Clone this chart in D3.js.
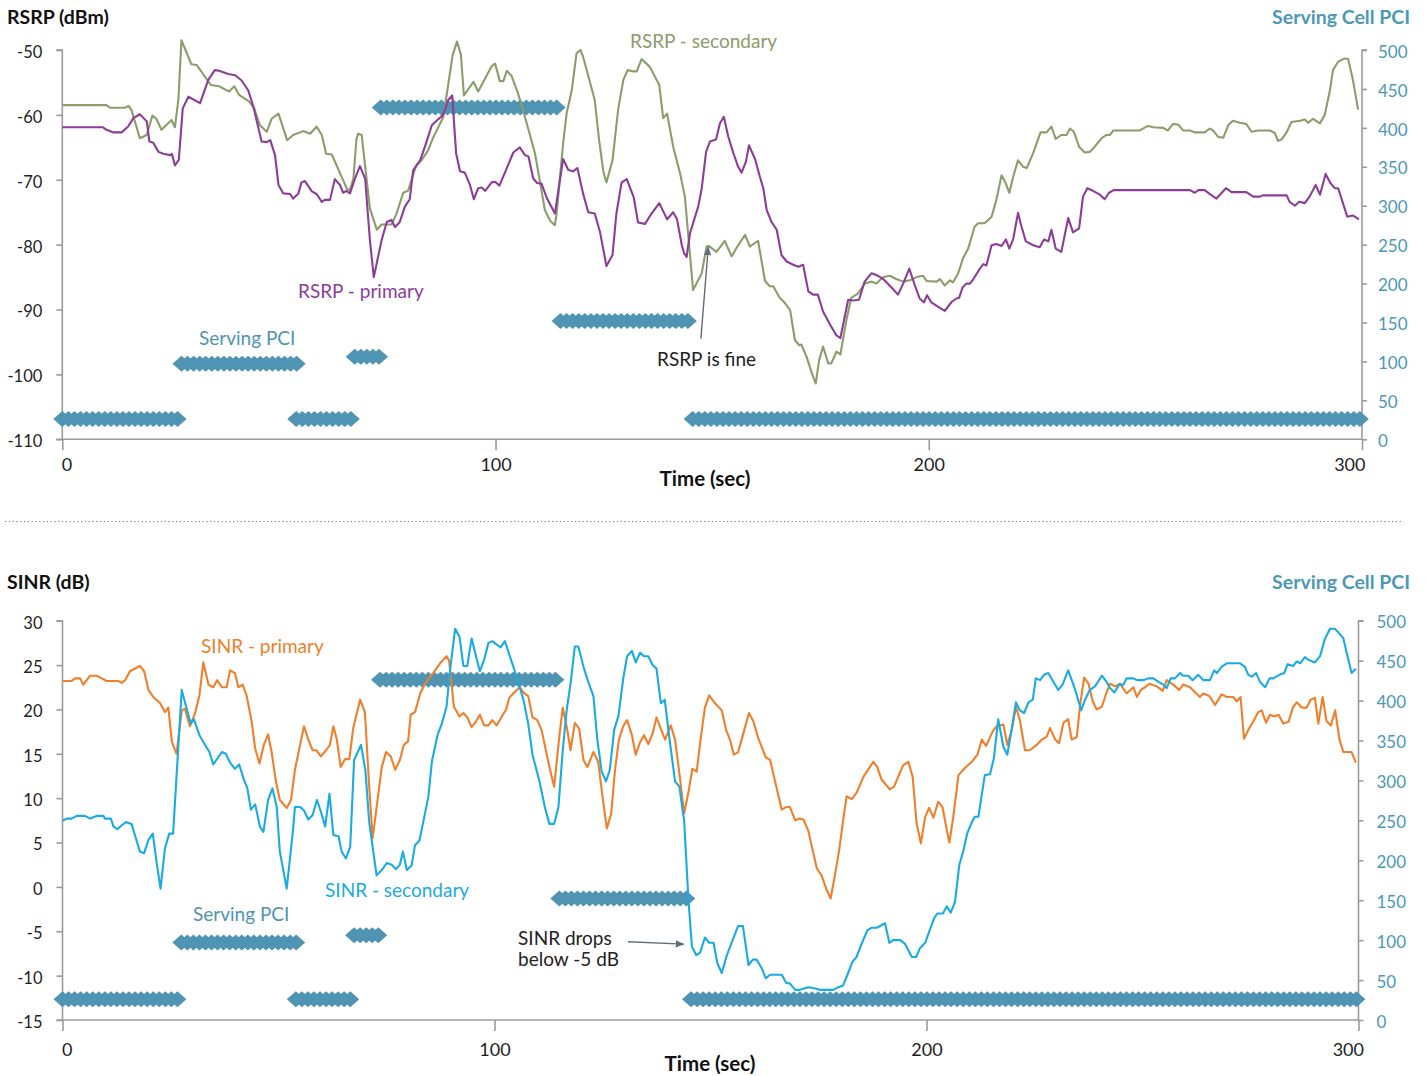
<!DOCTYPE html>
<html><head><meta charset="utf-8">
<script src="https://cdn.jsdelivr.net/npm/d3@7"></script>
<style>
body{margin:0;background:#fff;}
svg{display:block;font-family:Lato,"Open Sans",sans-serif;}
</style></head><body>
<svg id="c" width="1426" height="1076"></svg>
<script>
// ---------------- DATA ----------------
const xTicks = [0, 100, 200, 300];
const rsrpTicks = [-50, -60, -70, -80, -90, -100, -110];
const sinrTicks = [30, 25, 20, 15, 10, 5, 0, -5, -10, -15];
const pciTicks = [0, 50, 100, 150, 200, 250, 300, 350, 400, 450, 500];

// [time (s), dBm]
const rsrpPrimary = [[0,-61.9],[9.3,-61.9],[10.2,-62.3],[11.8,-62.7],[13.7,-62.7],[15.2,-61.8],[16.4,-60.5],[17.9,-59.9],[19.5,-61],[20.1,-64.1],[21,-64.3],[22.2,-65.7],[23.3,-66],[24.9,-66.2],[25.3,-66],[26,-67.8],[26.9,-66.9],[27.8,-59],[29.1,-57.2],[31.8,-58.2],[33.7,-54.6],[35.2,-53.1],[36.2,-53.2],[38.3,-53.7],[39.9,-53.9],[41.4,-54.7],[42.9,-56.2],[44.1,-58.7],[44.9,-61],[46,-64.1],[47.2,-64.2],[48,-63.9],[49.1,-66.2],[49.9,-70.8],[51,-72.1],[52.6,-72.2],[53.3,-72.9],[54.5,-72.1],[55.2,-70.4],[56,-70.2],[57.6,-71.8],[58.7,-72.2],[59.9,-73.4],[60.6,-73.1],[61.8,-73.1],[62.9,-69.9],[64.1,-70.8],[64.8,-72],[65.6,-71.7],[66.4,-72.1],[67.5,-69.9],[68.7,-67.9],[69.9,-69.8],[71,-79.3],[71.9,-85],[73.7,-79.3],[74.9,-76.5],[76,-76.2],[76.8,-77.3],[77.9,-76.5],[79.1,-74.1],[80.2,-73],[81,-68.5],[82.6,-67],[83.7,-64.9],[85.3,-61.6],[86.4,-60.9],[87.9,-60],[89.1,-57.7],[90,-57],[90.9,-65.9],[91.8,-68.7],[92.9,-68.9],[94.1,-70.8],[95,-73],[96,-71.3],[96.8,-71.2],[97.6,-71.7],[99.1,-70.4],[99.9,-70.3],[100.9,-70.9],[102.6,-68.2],[104.1,-65.8],[105.6,-65],[106.8,-66.2],[107.6,-66.4],[108.7,-69.8],[109.6,-70.5],[110.6,-70.6],[111.9,-72.9],[113.7,-75.2],[115.6,-66.8],[116.8,-68.5],[117.9,-68.7],[118.9,-68.2],[120.2,-72.1],[121.4,-75],[122.9,-75.2],[124.1,-78],[124.9,-80.8],[125.6,-83.3],[127,-81.6],[127.9,-75.2],[129.1,-70.4],[130.3,-69.9],[131.9,-72.7],[132.9,-76.6],[134.5,-76.8],[136,-75.2],[137.8,-73.6],[139.6,-76.1],[141,-75],[141.9,-76.1],[143,-80.1],[143.5,-81.3],[144.1,-81.9],[144.9,-78.2],[146.8,-74.1],[147.6,-71.3],[148.6,-65.7],[149.5,-64.1],[150.9,-63.8],[151.8,-61.3],[152.7,-60.3],[153.7,-63.3],[154.9,-65.9],[156,-68],[156.8,-68.9],[157.8,-67.2],[158.5,-64.7],[159.9,-66.8],[161,-69.5],[161.8,-71.3],[162.6,-74.7],[163.7,-76.5],[164.9,-77.7],[166,-81.6],[167.2,-82.6],[168.7,-83.1],[169.9,-83.4],[171,-83.1],[172.2,-87.2],[173.3,-87.7],[174.4,-87.7],[175.6,-90.3],[177.2,-92.3],[178.7,-94],[179.6,-94.4],[181.4,-88.5],[182.6,-88.6],[183.9,-88.5],[185.2,-85.7],[186.8,-84.4],[188,-84.7],[189.5,-85.3],[191.4,-86.6],[192.9,-87.7],[194.1,-86],[195.5,-83.7],[196.8,-86.3],[197.9,-88.3],[198.9,-88.9],[199.6,-87.8],[200.6,-88.9],[202.2,-89.6],[203.7,-90.2],[205.3,-88.8],[206.4,-88.3],[207,-88.2],[207.8,-86.6],[208.7,-86],[209.5,-86],[210.3,-85.3],[211.8,-83.7],[212.6,-83],[213.3,-83.2],[214.5,-80.1],[215.6,-79.9],[216.8,-80.2],[217.8,-79.2],[218.6,-80.6],[219.5,-79.1],[220.6,-75.1],[221.4,-77.2],[222.4,-79.5],[224.1,-80.1],[225.6,-80.4],[226.6,-79.2],[227.6,-79.5],[228.3,-77.7],[229.3,-80.6],[230.6,-81.1],[232.2,-75.9],[233.3,-78.1],[234.7,-77.5],[235.6,-72.6],[236.6,-71.3],[237.9,-71.7],[239.5,-72.3],[240.6,-73],[241.6,-72],[242.7,-71.6],[260.3,-71.6],[261.4,-72],[262.2,-71.6],[263.7,-71.6],[264.9,-72.2],[266.4,-72.9],[268.6,-71.3],[269.9,-71.9],[273.3,-71.9],[274.9,-72.6],[276.4,-72.6],[277.2,-72.4],[282.6,-72.4],[283.3,-73.4],[284.5,-74],[285.5,-73.4],[286.8,-73.6],[287.9,-72.6],[289.3,-70.8],[290.3,-72.3],[291.6,-69.1],[292.7,-70.5],[293.7,-71.3],[294.5,-71.3],[295.6,-73.6],[296.6,-75.7],[297.9,-75.5],[299.3,-76.1]];

const rsrpSecondary = [[0,-58.5],[10.2,-58.5],[11,-58.9],[14.5,-58.9],[15.3,-58.6],[16,-59.3],[17.9,-63.6],[19.5,-63.1],[20.8,-60.1],[21.7,-60.6],[22.9,-62.3],[25.2,-60.8],[26,-61.9],[26.8,-57.6],[27.5,-48.5],[29.8,-52.2],[31,-52.3],[34.3,-55.4],[36.2,-55.6],[38.5,-56.4],[39.7,-55.6],[40.8,-56.9],[43.1,-57.9],[44.3,-59],[45.6,-61.6],[47.2,-62.6],[48.3,-60.6],[49.9,-59.8],[51.9,-63.9],[53.3,-63.1],[55.6,-62.5],[57.2,-62.9],[58.7,-61.8],[59.9,-63.1],[60.9,-66],[62.2,-66.1],[63,-67.3],[65.7,-71.4],[66.4,-71.6],[67.2,-69.8],[67.9,-63.7],[68.3,-62.9],[69.1,-63.1],[71,-74.4],[72.6,-77.7],[73.7,-76.9],[76,-76.9],[77.1,-75.3],[78.7,-72],[79.8,-71.7],[81.7,-67.8],[82.9,-67],[84.4,-65.5],[85.6,-63.5],[87.9,-60.4],[89,-55.7],[90.1,-50.8],[91.1,-48.7],[92,-50.7],[92.7,-57],[94.9,-54.9],[96,-56.4],[99.1,-52.5],[99.9,-52.1],[101,-54.8],[101.8,-54.8],[102.6,-53.2],[103.7,-54],[105.2,-56.7],[107.2,-61.3],[109.1,-65.9],[111.4,-74.7],[112.6,-76.3],[113.7,-77],[114.1,-75.2],[115.6,-64.4],[116.4,-59.8],[117.6,-56.2],[118.7,-50.5],[119.6,-50],[120.2,-51],[122.9,-57.7],[123.9,-63.9],[124.9,-68.8],[125.6,-70.4],[127,-67],[128.3,-59.2],[129.5,-54.6],[130.5,-53.1],[131.8,-53.3],[132.6,-53.3],[133.7,-51.4],[135.6,-52.6],[137.8,-55.4],[138.7,-60.5],[139.6,-59.8],[141,-64.9],[142.6,-69],[143.7,-72.6],[145.6,-87],[147.6,-84.4],[148.7,-80.3],[149.2,-80.2],[151,-81.1],[152.9,-79.4],[154.5,-81.8],[156,-80.1],[157.6,-78.5],[158.7,-80.3],[160.6,-79.4],[162.2,-85.6],[163.3,-86.4],[164.1,-86.4],[165.6,-88.2],[166.8,-89],[168,-90.1],[169.1,-94.7],[170.1,-95.5],[170.6,-95.4],[171.8,-97.3],[173,-99.8],[173.9,-101.4],[174.7,-97.8],[175.6,-95.7],[176.8,-98.3],[177.5,-98.3],[178.7,-96.5],[179.6,-96.9],[181,-91.6],[182.1,-88.2],[183.7,-87.5],[185.2,-86],[186.8,-85.7],[187.9,-86],[189.5,-85],[191,-84.8],[192.5,-85.3],[194.1,-85.7],[195.6,-85.5],[197.2,-85],[198.7,-84.8],[199.5,-85.6],[201.8,-85.7],[202.6,-85.3],[203.7,-86.3],[204.9,-85.5],[205.6,-85.8],[206.8,-84.4],[207.9,-82.1],[209.1,-80.6],[210.6,-77.2],[211.4,-76.7],[212.9,-76.7],[213.7,-76.2],[214.5,-75.7],[215.6,-73.1],[216.8,-69.3],[217.6,-70.3],[218.6,-72],[219.5,-69.5],[220.6,-67],[221.8,-68],[222.6,-68.2],[224.1,-65.9],[225.8,-62.7],[227.2,-62.7],[228.3,-61.8],[229.3,-63.7],[230.6,-63.1],[231.8,-63.1],[232.6,-62.1],[233.5,-62.6],[234.7,-64.9],[236,-65.8],[237.2,-65.7],[238.3,-64.9],[239.9,-63.6],[241,-63.1],[241.8,-63.1],[242.6,-62.4],[248.7,-62.4],[250.6,-61.7],[251.8,-61.9],[254.1,-62],[255.2,-62.4],[256.4,-61.4],[257.6,-61.5],[258.7,-62.4],[260.3,-62.4],[261.4,-62.7],[263.7,-62.7],[264.9,-62.1],[265.6,-62.4],[266.8,-63.4],[268,-63.5],[269.1,-61.6],[270.2,-60.9],[271.8,-61.2],[273.3,-61.4],[274.5,-62.6],[276,-62.4],[278.7,-62.4],[279.9,-62.8],[280.6,-64],[281.4,-63.8],[282.6,-62.7],[283.7,-61.1],[285.7,-60.9],[286.8,-60.7],[287.6,-61.2],[288.7,-60.6],[290.3,-61.3],[291.4,-60],[292.6,-56.2],[293.3,-53.1],[294.5,-51.8],[296,-51.3],[296.8,-51.4],[297.9,-54.6],[299.1,-59.2]];

// [time (s), dB]
const sinrPrimary = [[0,23.2],[2.1,23.2],[2.9,23.5],[4.1,23.5],[4.8,22.8],[6.4,23.8],[7.9,23.8],[9.1,23.5],[10.2,23.2],[12.9,23.2],[13.7,23],[14.5,23.3],[15.6,24.3],[17.9,24.9],[18.9,24.3],[19.9,22.2],[21,21.4],[22.6,20.7],[23.7,19.7],[24.5,20.2],[25.3,16.4],[26.4,15],[27.6,19.9],[28.3,20.1],[29.5,18.1],[30.7,19.6],[31.7,21.6],[32.6,25.3],[33.8,22.8],[34.9,22.5],[35.8,23.3],[36.9,22.5],[38,22.5],[38.8,24.4],[39.9,24.1],[40.7,22.5],[41.7,22.8],[42.6,21.6],[43.8,18.6],[44.6,15.6],[45.6,13.9],[46.6,16],[47.6,17.2],[48.4,15.2],[49.4,11.9],[50.3,9.8],[51.9,8.9],[52.9,9.8],[53.8,13.2],[55,16],[55.9,18.1],[56.9,16.6],[57.9,15.4],[58.8,15.4],[59.8,14.7],[61,15.4],[61.9,16],[62.7,18.1],[63.5,16.6],[64.4,13.5],[65.4,14.4],[66.4,14.4],[67.3,17.9],[68.9,21.1],[70,19.7],[71,11.3],[71.8,5.5],[73.9,13.5],[74.9,15.2],[76,14.7],[77,13.2],[78.1,14.3],[79,16],[80,16.4],[80.6,19.4],[81.6,19.7],[82.8,21.8],[83.9,22.9],[85.8,24.1],[87.4,25.2],[88.9,26],[89.5,25.5],[90.6,20.3],[91.9,19.2],[92.8,19.6],[93.7,19.1],[94.7,18],[95.7,18.6],[96.6,19.4],[97.6,18.2],[98.6,18.2],[99.5,18.8],[100.5,18.2],[101.7,19.2],[102.7,20],[103.4,21.3],[104.7,22],[105.9,22.5],[106.7,21.9],[107.8,21.5],[108.8,19.1],[109.9,18.8],[110.9,17.7],[112.7,13.5],[113.8,11.3],[115,16.9],[115.8,20.2],[116.7,18.1],[117.6,15.4],[118.6,18.5],[119.6,17.8],[120.6,14.3],[121.5,13.5],[122.9,15.2],[124,14.1],[125,10.2],[126,6.6],[127,8.2],[127.9,13.2],[128.8,16.6],[129.8,18.1],[130.7,18.8],[131.8,17.1],[132.7,14.9],[133.7,16.3],[134.6,17.1],[135.6,16.1],[136.6,17.3],[137.5,19.1],[138.5,17.8],[139.5,16.6],[140.8,18.2],[141.8,16.6],[142.9,12.4],[143.9,8.3],[144.9,10.7],[145.8,13.3],[146.8,13],[147.7,16.6],[148.7,20.2],[149.7,21.6],[150.7,20.9],[151.6,20.4],[152.6,19.9],[153.6,17.7],[154.5,16.6],[155.4,14.9],[156.4,15.2],[157.6,17.3],[158.9,19.6],[159.9,18.7],[161.1,16.7],[162.8,14.6],[163.8,14.3],[164.9,12],[166.5,8.7],[167.5,9],[168.4,9],[169.6,7.5],[170.6,7.7],[171.5,7.6],[172.6,6.4],[174.6,2.1],[175.7,1.3],[176.9,-0.35],[177.8,-1.3],[178.8,1.3],[179.8,4.2],[180.7,7.5],[181.5,10.2],[182.7,9.9],[183.8,10.6],[185.4,12.4],[186.6,13.3],[187.7,14.1],[188.6,13.5],[189.6,12.1],[191.5,11],[192.5,11.3],[193.7,12.7],[194.6,13.7],[195.8,14.1],[196.8,12.4],[197.7,7.2],[198.7,4.9],[199.7,7.9],[200.6,8.9],[201.6,7.8],[202.7,9.6],[203.7,9],[204.7,6.4],[205.3,5],[206.2,7.9],[207.4,12.6],[208.9,13.4],[210.5,14.1],[211.8,14.9],[212.8,16.6],[213.8,15.9],[215.3,17.5],[216.2,18.1],[217,18.2],[217.8,18.3],[218.7,16],[219.7,17.6],[220.7,20.3],[221.6,18.8],[222.8,15.4],[223.9,15.4],[225.5,16],[226.7,16.6],[227.8,16.9],[228.6,17.9],[229.8,16.6],[230.7,16.2],[231.7,18.5],[232.8,18.9],[233.6,16.6],[234.8,16.9],[235.5,20.3],[236.5,23.6],[237.5,22.9],[238.5,20.9],[239.4,20],[240.6,20.3],[241.6,21.8],[242.5,22.9],[243.7,22.6],[244.8,22.9],[246.3,21.8],[247.9,22.5],[248.7,21.4],[249.6,22.2],[250.6,22.5],[251.6,22.9],[253.3,22.6],[254.7,22.1],[255.6,23.3],[257.1,22.8],[258.5,22.2],[259.4,22.8],[261,22.5],[262.2,21.9],[263.3,21.4],[264.1,21.8],[265.5,21.5],[266.8,20.5],[268.3,21.7],[269.5,21.4],[271,21.4],[271.8,20.9],[272.7,21.4],[273.5,16.7],[274.5,17.7],[275.7,18.7],[276.8,19.7],[277.6,19.9],[278.6,18.5],[279.5,19.4],[280.5,19.2],[281.5,19.4],[282.6,18.4],[283.8,18.6],[284.8,20.2],[285.7,20.8],[286.9,20.2],[288,20.2],[288.9,21.1],[289.9,21.3],[290.7,18.4],[291.7,21.4],[292.6,18.7],[293.6,18.2],[294.6,19.9],[295.6,16.6],[296.5,15.2],[298.4,15.2],[299.4,14]];

const sinrSecondary = [[0,7.46],[1,7.7],[2.1,7.7],[3.3,8],[5.2,8],[6.4,7.7],[7.9,8],[9.5,8],[9.8,7.7],[11.2,7.7],[11.8,6.8],[12.7,6.5],[13.7,6.95],[14.7,7.3],[16,7.1],[16.8,5.8],[17.9,4],[18.9,3.8],[19.9,5.3],[20.9,6],[21.8,2.7],[22.7,-0.2],[23.7,4.3],[24.7,6],[25.6,6],[27.6,22.2],[28.4,20.7],[29.7,18.4],[30.4,18.9],[31.7,17.1],[33,16],[34,15.2],[34.9,13.8],[35.9,14.5],[36.9,15.2],[37.8,15],[38.8,14],[39.9,13.3],[40.9,13.8],[41.9,12.2],[42.8,11.1],[43.6,8.7],[44.6,9.3],[45.7,6.8],[46.5,6.2],[47.6,9.8],[48.6,11.1],[49.6,9],[50.3,4],[51.9,-0.2],[53.4,6.6],[53.8,9],[55,9],[55.9,8.6],[56.9,7.6],[57.9,8.1],[58.9,9.8],[59.8,8.5],[60.8,6.8],[61.8,10.5],[62.7,5.85],[63.9,5.7],[64.6,4],[65.6,3.2],[66.6,4.5],[67.5,14.3],[69.1,16],[70.1,13.2],[71,7.3],[72.7,1.3],[73.9,1.9],[75.1,2.7],[76.2,2.5],[77.2,2],[78.1,2.5],[78.8,4],[79.7,1.9],[80.8,2.4],[81.6,4.7],[82.6,5.2],[83.5,7.3],[84.7,10.2],[85.5,14.1],[86.8,17.1],[87.8,18.4],[88.9,20.3],[89.7,24.4],[90.9,29.1],[91.9,28.2],[92.8,24.9],[93.7,24.9],[94.7,28],[96.6,24.3],[97.6,25.6],[98.6,27.5],[99.5,27.7],[100.5,27.3],[101.4,27],[102.4,27.7],[104.7,24.3],[106.7,21.1],[107.8,18.4],[108.8,14.9],[110.4,11.9],[111.7,8.9],[112.7,7.1],[113.8,7.1],[114.8,9],[115.8,15.4],[116.7,19.9],[117.6,22.9],[118.6,27.1],[119.4,27.1],[120.6,24.8],[121.7,23.1],[122.9,21.5],[123.8,16.6],[124.8,13],[125.8,11.9],[126.7,13.2],[127.7,17.7],[128.7,19.3],[129.8,23.5],[130.7,26],[131.8,26.6],[132.7,25.3],[133.7,26.4],[134.6,26],[135.6,26],[136.6,25],[137.5,24.6],[138.5,20.7],[139.4,21.1],[140.5,16.7],[141.8,11.9],[142.8,11.3],[143.7,8.1],[143.9,7.5],[144.9,-1.5],[145.7,-6.7],[146.7,-7.7],[147.6,-7.4],[148.7,-5.7],[149.7,-6.3],[150.7,-6.3],[151.6,-8.6],[152.6,-9.7],[153.8,-7.7],[155.2,-5.9],[156.4,-4.4],[157.5,-4.4],[158.8,-8.8],[159.8,-8.2],[160.7,-8.2],[161.9,-9.2],[162.8,-10.3],[163.8,-9.9],[166.5,-9.9],[167.5,-10.8],[168.4,-10.9],[169.6,-11.6],[170.7,-11.6],[172.6,-11.3],[173.8,-11.4],[175.3,-11.6],[176.9,-11.6],[178.4,-11.6],[179.6,-11.3],[180.7,-11.1],[181.7,-9.9],[182.9,-8.4],[183.8,-7.9],[185,-6.4],[186.3,-4.9],[187.3,-4.6],[188.5,-4.6],[190.4,-4.1],[191.4,-6.3],[192.3,-6],[193.9,-6],[195,-6.4],[196.6,-7.9],[197.6,-7.9],[198.5,-6.9],[199.7,-6.3],[200.8,-4.8],[201.8,-3.5],[202.5,-3],[203.8,-3],[204.7,-2.2],[205.6,-2.9],[206.6,-1.7],[207.6,2.5],[208.5,4],[209.4,6],[210.5,7.3],[211.2,7.9],[212,7.9],[213.5,12.6],[214.7,12.7],[215.6,14.5],[216.6,18.9],[217.8,15.8],[218.7,14.9],[219.7,17.7],[220.7,20.8],[221.6,19.9],[222.6,19.6],[223.6,20.8],[224.6,21.1],[225.3,23.5],[226.3,23.3],[227.2,23.9],[228.2,24.1],[229.4,23.1],[230.5,22.2],[231.5,22.8],[232.8,24.4],[234,22.8],[234.8,21.6],[235.8,19.9],[236.7,21.1],[237.8,22.2],[239,22.6],[240.6,23.8],[241.7,23.1],[242.5,22.4],[243.5,21.9],[244.6,22.8],[245.6,22.8],[246.3,23.5],[247.9,23.5],[248.7,23.3],[250.2,23.3],[251.3,23.5],[252.5,23.5],[253.7,23.1],[254.8,22.8],[255.6,22.4],[256.5,23.5],[257.5,23.5],[258.7,24.1],[259.4,23.8],[260.6,23.8],[261.6,23.3],[262.9,23.9],[264.1,23.3],[265.6,23.3],[266.6,24.4],[267.2,24.1],[268.3,24.8],[269.5,25.2],[272.6,25.2],[273.7,24.8],[274.5,23.9],[275.3,23.7],[276.3,24.1],[277.2,23.1],[278.4,22.5],[279.4,23.5],[280.3,23.5],[281.7,23.9],[282.8,24.1],[283.6,25.1],[284.9,24.9],[285.7,25.4],[286.5,25.2],[287.6,25.9],[288.4,25.6],[289.9,25.3],[291.1,26],[292.2,27.9],[293.4,29.1],[294.5,29.1],[295.5,28.6],[296.5,28],[297.4,26.1],[298.4,24.1],[299.4,24.6]];

// Serving cell PCI: [start time, end time, PCI]
const pciSegments = [[0,27.5,26],[27.5,55,97],[54,67,26],[67.5,73.5,106],[73.5,115,426],[115,145,152],[145.5,300,26]];
const pciSampleStep = 1.4; // seconds between logged PCI samples

// ---------------- STYLE ----------------
const COL = {purple:'#8C3D98', green:'#8B9D6A', orange:'#F07F2B', blue:'#1AABE3',
  pci:'#4F94B3', pciText:'#4B98B8', axis:'#9b9b9b', text:'#1e1e1e', arrow:'#5f6d7b'};
const FONT = 'Lato, "Open Sans", sans-serif';

const svg = d3.select('#c');
const defs = svg.append('defs');
defs.append('marker').attr('id','arr').attr('viewBox','0 0 10 10').attr('refX',9).attr('refY',5)
  .attr('markerWidth',9).attr('markerHeight',9).attr('orient','auto-start-reverse')
  .attr('markerUnits','userSpaceOnUse')
  .append('path').attr('d','M0,1 L10,5 L0,9 Z').attr('fill',COL.arrow);

function panel(cfg){
  const g = svg.append('g');
  const x = d3.scaleLinear().domain([0,300]).range([cfg.x0, cfg.x1]);
  const yL = d3.scaleLinear().domain(cfg.yDomain).range([cfg.yB, cfg.yT]);
  const yR = d3.scaleLinear().domain([0,500]).range([cfg.yB, cfg.yT]);

  // axes
  const ax = g.append('g').attr('transform',`translate(${cfg.x0},0)`)
    .call(d3.axisLeft(yL).tickValues(cfg.leftTicks).tickSize(6).tickPadding(14).tickFormat(d=>d));
  const ar = g.append('g').attr('transform',`translate(${cfg.x1},0)`)
    .call(d3.axisRight(yR).tickValues(pciTicks).tickSize(5).tickPadding(cfg.rPad));
  const ab = g.append('g').attr('transform',`translate(0,${cfg.yB})`)
    .call(d3.axisBottom(x).tickValues(xTicks).tickSize(11).tickPadding(cfg.bPad));
  [ax,ar,ab].forEach(a=>{
    a.select('.domain').attr('stroke',COL.axis).attr('stroke-width',1.6);
    a.selectAll('.tick line').attr('stroke',COL.axis).attr('stroke-width',1.6);
    a.selectAll('text').attr('font-family',FONT);
  });
  ax.select('.domain').attr('d',`M-6,${cfg.yT}H0V${cfg.yB}H-6`);
  ar.select('.domain').attr('d',`M5,${cfg.yT}H0V${cfg.yB}`);
  ab.select('.domain').attr('d',`M${cfg.x0},0H${cfg.x1}`);
  ax.selectAll('text').attr('fill',COL.text).attr('font-size',16.5).attr('dy','0.45em');
  ar.selectAll('text').attr('fill',COL.pciText).attr('font-size',17).attr('dy','0.42em');
  ab.selectAll('text').attr('fill',COL.text).attr('font-size',18).attr('dy','0.9em')
    .attr('text-anchor',d=>d===0?'start':(d===300?'end':'middle'))
    .attr('dx',d=>d===0?-1:(d===300?cfg.lastDx:0));

  // PCI markers
  const diamonds = [];
  pciSegments.forEach(([a,b,p])=>{
    for(let t=a;t<=b+1e-6;t+=pciSampleStep) diamonds.push([t,p]);
  });
  g.append('g').selectAll('path').data(diamonds).join('path')
    .attr('d',d=>{const cx=x(d[0]), cy=yR(d[1]); return `M${cx-9},${cy}L${cx},${cy-8}L${cx+9},${cy}L${cx},${cy+8}Z`;})
    .attr('fill',COL.pci);

  // series lines
  const line = d3.line().x(d=>x(d[0])).y(d=>yL(d[1]));
  cfg.series.forEach(s=>{
    g.append('path').datum(s.data).attr('d',line).attr('fill','none')
      .attr('stroke',s.color).attr('stroke-width',2.1).attr('stroke-linejoin','round');
  });

  // titles
  g.append('text').attr('x',7).attr('y',cfg.titleY).text(cfg.title)
    .attr('font-weight','bold').attr('font-size',19.5).attr('fill','#111');
  g.append('text').attr('x',1410).attr('y',cfg.titleY).attr('text-anchor','end').text('Serving Cell PCI')
    .attr('font-weight','bold').attr('font-size',19.5).attr('fill',COL.pciText);
  g.append('text').attr('x',cfg.timeX).attr('y',cfg.timeY).attr('text-anchor','middle').text('Time (sec)')
    .attr('font-weight','bold').attr('font-size',20.5).attr('fill','#111');

  // labels
  cfg.labels.forEach(l=>{
    g.append('text').attr('x',l.x).attr('y',l.y).text(l.t).attr('fill',l.c).attr('font-size',19);
  });
  cfg.arrows.forEach(a=>{
    g.append('line').attr('x1',x(a[0])).attr('y1',yL(a[1])).attr('x2',x(a[2])).attr('y2',yL(a[3]))
      .attr('stroke',COL.arrow).attr('stroke-width',1.4).attr('marker-end','url(#arr)');
  });
  svg.selectAll('text').attr('font-family',FONT);
}

panel({
  x0:62.3, x1:1362, yT:50, yB:439.3, yDomain:[-110,-50], leftTicks:rsrpTicks, rPad:11, lastDx:3, bPad:5,
  title:'RSRP (dBm)', titleY:24, timeX:705, timeY:486,
  series:[{data:rsrpSecondary,color:COL.green},{data:rsrpPrimary,color:COL.purple}],
  labels:[
    {x:630,y:48,t:'RSRP - secondary',c:COL.green},
    {x:298,y:298,t:'RSRP - primary',c:COL.purple},
    {x:199,y:345,t:'Serving PCI',c:COL.pci},
    {x:657,y:366,t:'RSRP is fine',c:'#222'}
  ],
  arrows:[[147.4,-94.5,149.1,-80.4]]
});

panel({
  x0:62.5, x1:1358.5, yT:620.7, yB:1020, yDomain:[-15,30], leftTicks:sinrTicks, rPad:13, lastDx:5, bPad:9,
  title:'SINR (dB)', titleY:589, timeX:710, timeY:1071,
  series:[{data:sinrPrimary,color:COL.orange},{data:sinrSecondary,color:COL.blue}],
  labels:[
    {x:201,y:653,t:'SINR - primary',c:COL.orange},
    {x:325,y:897,t:'SINR - secondary',c:COL.blue},
    {x:193,y:921,t:'Serving PCI',c:COL.pci},
    {x:518,y:945,t:'SINR drops',c:'#222'},
    {x:518,y:966,t:'below -5 dB',c:'#222'}
  ],
  arrows:[[130.9,-6.18,143.8,-6.45]]
});

// separator
svg.append('line').attr('x1',5).attr('x2',1402).attr('y1',521.5).attr('y2',521.5)
  .attr('stroke','#777').attr('stroke-width',1.2).attr('stroke-dasharray','1.2,2.6');
</script>
</body></html>
